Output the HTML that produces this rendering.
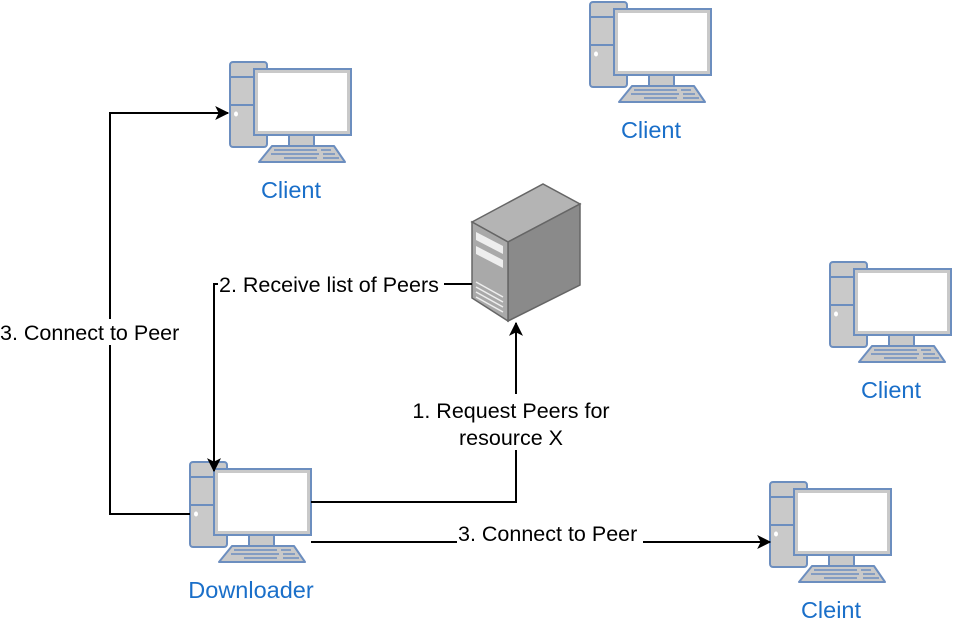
<!DOCTYPE html>
<html><head><style>
html,body{margin:0;padding:0;background:#fff;}
svg text{font-family:"Liberation Sans",Arial,sans-serif;}
</style></head><body>
<svg width="954" height="624" viewBox="0 0 954 624" xmlns="http://www.w3.org/2000/svg">
<defs>
<g id="pc">
  <rect x="1" y="1" width="37" height="85" rx="3" fill="#c9c9c9" stroke="#6c8ebf" stroke-width="2"/>
  <line x1="1" y1="16" x2="38" y2="16" stroke="#6c8ebf" stroke-width="2"/>
  <line x1="1" y1="44" x2="38" y2="44" stroke="#6c8ebf" stroke-width="2"/>
  <ellipse cx="7" cy="53" rx="2" ry="2.5" fill="#fff"/>
  <rect x="25" y="8" width="97" height="66" fill="#c9c9c9" stroke="#6c8ebf" stroke-width="2"/>
  <rect x="29" y="12" width="89" height="58" fill="#fff"/>
  <rect x="60" y="74" width="25" height="11" fill="#c9c9c9" stroke="#6c8ebf" stroke-width="2"/>
  <polygon points="43,85 105,85 116,101 30,101" fill="#c9c9c9" stroke="#6c8ebf" stroke-width="2" stroke-linejoin="round"/>
  <line x1="45" y1="89" x2="88" y2="89" stroke="#6c8ebf" stroke-width="1.5"/>
  <line x1="92" y1="89" x2="102" y2="89" stroke="#6c8ebf" stroke-width="1.5"/>
  <line x1="42" y1="93" x2="90" y2="93" stroke="#6c8ebf" stroke-width="1.5"/>
  <line x1="94" y1="93" x2="106" y2="93" stroke="#6c8ebf" stroke-width="1.5"/>
  <line x1="55" y1="97" x2="88" y2="97" stroke="#6c8ebf" stroke-width="1.5"/>
  <line x1="94" y1="97" x2="110" y2="97" stroke="#6c8ebf" stroke-width="1.5"/>
</g>
<marker id="ah" viewBox="0 0 12 12" refX="11" refY="6" markerWidth="14" markerHeight="14" markerUnits="userSpaceOnUse" orient="auto">
  <path d="M0,0 L12,6 L0,12 L3,6 Z" fill="#000"/>
</marker>
</defs>

<use href="#pc" x="229" y="61"/>
<use href="#pc" x="589" y="1"/>
<use href="#pc" x="829" y="261"/>
<use href="#pc" x="189" y="461"/>
<use href="#pc" x="769" y="481"/>

<!-- server -->
<polygon points="472,222 543,184 580,204 508,242" fill="#b4b4b4" stroke="#666" stroke-width="1.5"/>
<polygon points="508,242 580,204 580,285 508,321" fill="#8a8a8a" stroke="#666" stroke-width="1.5"/>
<polygon points="472,222 508,242 508,321 472,298" fill="#a9a9a9" stroke="#666" stroke-width="1.5"/>
<polygon points="476,232 503,246 503,254 476,240" fill="#eee"/>
<polygon points="476,246 503,260 503,268 476,254" fill="#eee"/>
<g stroke="#eee" stroke-width="1.5">
<line x1="476" y1="282" x2="503" y2="297"/>
<line x1="476" y1="287" x2="503" y2="302"/>
<line x1="476" y1="292" x2="503" y2="307"/>
<line x1="476" y1="297" x2="503" y2="312"/>
</g>

<!-- connectors -->
<g fill="none" stroke="#000" stroke-width="2">
<polyline points="311,502 516,502 516,323" marker-end="url(#ah)"/>
<polyline points="472,284 214,284 214,471" marker-end="url(#ah)"/>
<polyline points="190,514 110,514 110,113 228,113" marker-end="url(#ah)"/>
<polyline points="311,542 770,542" marker-end="url(#ah)"/>
</g>

<!-- labels -->
<g font-size="21.5" fill="#000">
<rect x="408" y="394" width="208" height="56" fill="#fff"/>
<text x="511" y="418" text-anchor="middle">1. Request Peers for</text>
<text x="511" y="445" text-anchor="middle">resource X</text>
<rect x="218" y="271" width="226" height="26" fill="#fff"/>
<text x="219" y="292">2. Receive list of Peers</text>
<rect x="0" y="319" width="186" height="26" fill="#fff"/>
<text x="0" y="340">3. Connect to Peer</text>
<rect x="457" y="520" width="186" height="26" fill="#fff"/>
<text x="458" y="541">3. Connect to Peer</text>
</g>
<g font-size="23.5" fill="#1a6fc9" text-anchor="middle">
<text x="291" y="198">Client</text>
<text x="651" y="138">Client</text>
<text x="891" y="398">Client</text>
<text x="251" y="598">Downloader</text>
<text x="831" y="618">Cleint</text>
</g>
</svg>
</body></html>
